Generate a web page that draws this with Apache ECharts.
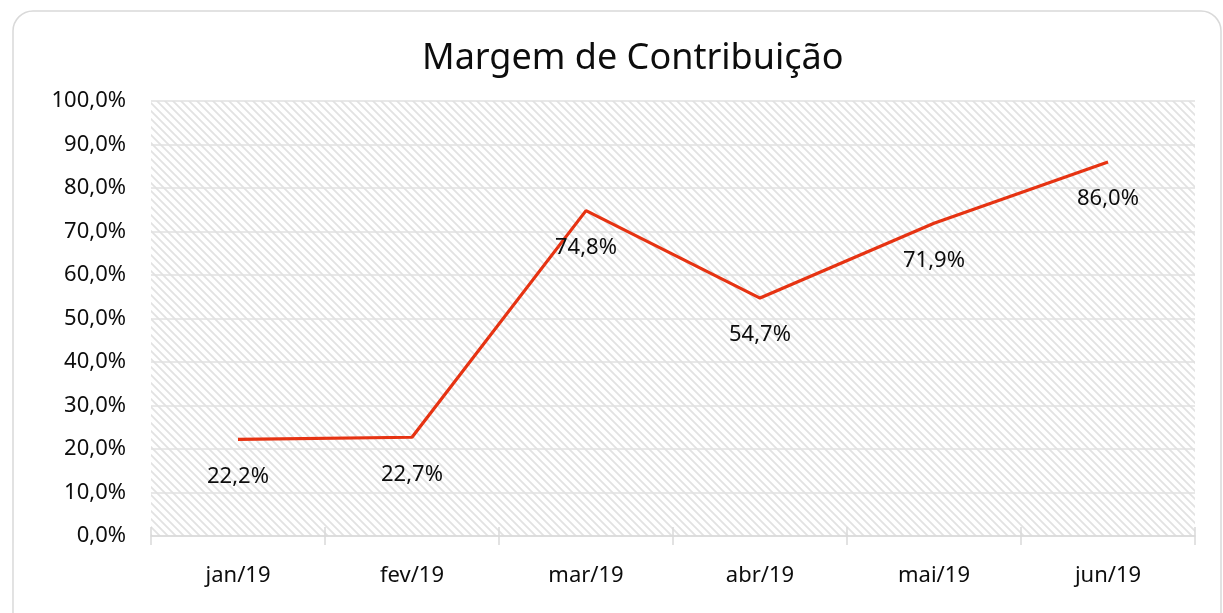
<!DOCTYPE html>
<html>
<head>
<meta charset="utf-8">
<script src="https://cdn.jsdelivr.net/npm/echarts@6/dist/echarts.min.js"></script>
<style>
  html, body { margin: 0; padding: 0; background: #fff; }
  #chart-panel { width: 1223px; height: 613px; }
</style>
</head>
<body>
<div id="chart-panel"></div>
<script>
(function () {
    var myChart = echarts.init(document.querySelector('#chart-panel'));

    var titleText = 'Margem de Contribuição';
    var months = ['jan/19', 'fev/19', 'mar/19', 'abr/19', 'mai/19', 'jun/19'];
    var margem = [22.2, 22.7, 74.8, 54.7, 71.9, 86.0];

    // formato pt-BR: virgula decimal
    var fmt = function (v) { return v.toFixed(1).replace('.', ',') + '%'; };

    // textura hachurada do fundo da area de plotagem
    var tile = document.createElement('canvas');
    tile.width = 8; tile.height = 8;
    var ctx = tile.getContext('2d');
    ctx.fillStyle = '#ffffff';
    ctx.fillRect(0, 0, 8, 8);
    ctx.strokeStyle = '#e2e2e2';
    ctx.lineWidth = 1.8;
    ctx.beginPath();
    ctx.moveTo(-2, -2); ctx.lineTo(10, 10);
    ctx.moveTo(-10, -2); ctx.lineTo(2, 10);
    ctx.moveTo(6, -2); ctx.lineTo(18, 10);
    ctx.stroke();

    var font = 'Noto Sans';
    var ink = '#0d0d0d';

    var option = {
        backgroundColor: '#fff',
        title: {
            text: titleText,
            left: 417,
            top: 36,
            textStyle: { fontFamily: font, fontSize: 36, fontWeight: 'normal', color: ink }
        },
        graphic: [{
            type: 'rect',
            shape: { x: 13, y: 11, width: 1208, height: 640, r: 20 },
            style: { fill: 'none', stroke: '#d9d9d9', lineWidth: 1.5 },
            silent: true
        }],
        grid: {
            left: 151, right: 28, top: 101, bottom: 77,
            show: true,
            borderWidth: 0,
            backgroundColor: { image: tile, repeat: 'repeat' }
        },
        xAxis: [{
            type: 'category',
            data: months,
            boundaryGap: true,
            axisLine: { lineStyle: { color: '#d9d9d9', width: 1.5 } },
            axisTick: { show: true, length: 9, lineStyle: { color: '#d9d9d9', width: 1.5 } },
            axisLabel: { margin: 29, fontFamily: font, fontSize: 22, color: ink }
        }, {
            type: 'category',
            data: months,
            position: 'bottom',
            boundaryGap: true,
            axisLine: { show: false },
            axisTick: { show: true, inside: true, length: 9, lineStyle: { color: '#d9d9d9', width: 1.5 } },
            axisLabel: { show: false }
        }],
        yAxis: {
            type: 'value',
            min: 0, max: 100, interval: 10,
            axisLine: { show: false },
            axisTick: { show: false },
            splitLine: { lineStyle: { color: '#e0e0e0', width: 1.5 } },
            axisLabel: {
                margin: 25, fontFamily: font, fontSize: 22, color: ink,
                formatter: function (v) { return fmt(v); }
            }
        },
        series: [{
            type: 'line',
            data: margem,
            symbol: 'circle',
            symbolSize: 0,
            showSymbol: true,
            lineStyle: { color: '#e63312', width: 3.2 },
            itemStyle: { color: '#e63312' },
            label: {
                show: true,
                position: 'bottom',
                distance: 26,
                fontFamily: font, fontSize: 22, color: ink,
                formatter: function (p) { return fmt(p.value); }
            },
            animation: false
        }]
    };

    myChart.setOption(option);
})();
</script>
</body>
</html>
